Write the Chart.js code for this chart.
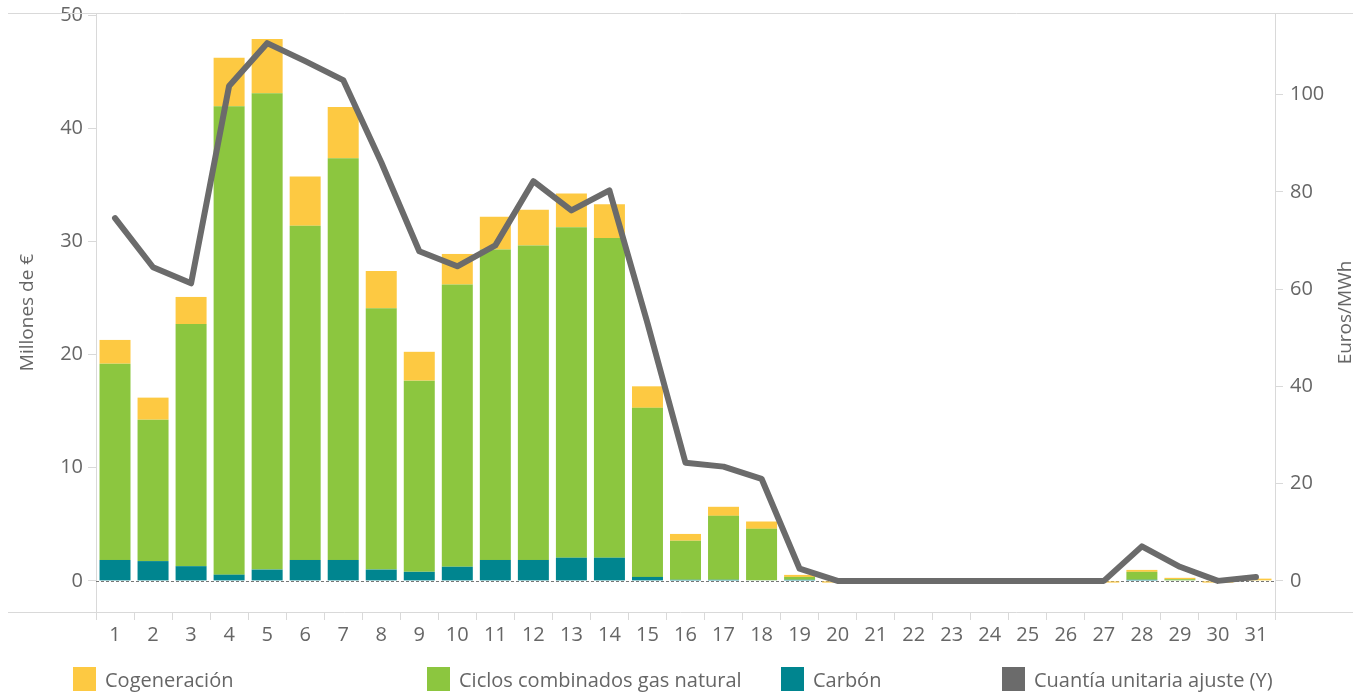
<!DOCTYPE html>
<html>
<head>
<meta charset="utf-8">
<script src="https://cdn.jsdelivr.net/npm/chart.js@4.4.1/dist/chart.umd.min.js"></script>
<style>
  html, body { margin: 0; padding: 0; background: #fff; }
  #wrap { position: relative; width: 1353px; height: 693px; overflow: hidden; }
  #legend { position: absolute; left: 0; top: 667px; width: 1353px; height: 26px;
            font-family: 'Open Sans', sans-serif; font-size: 20px; color: #666; }
  .item { position: absolute; top: 0; height: 24px; display: flex; align-items: center; white-space: nowrap; }
  .box { width: 23px; height: 24px; margin-right: 9px; flex: none; }
</style>
</head>
<body>
<div id="wrap">
  <canvas id="myChart" width="1353" height="693"></canvas>
  <div id="legend"></div>
</div>
<script>
var ctx = document.getElementById('myChart').getContext('2d');

// days of the month
let days = ['1','2','3','4','5','6','7','8','9','10','11','12','13','14','15','16',
            '17','18','19','20','21','22','23','24','25','26','27','28','29','30','31'];

// millones de euros por tecnología
let carbon = [1.85, 1.75, 1.3, 0.55, 1.0, 1.85, 1.85, 1.0, 0.8, 1.25, 1.85, 1.85, 2.05, 2.05, 0.35, 0.1,
              0.1, 0.05, 0.1, 0, 0, 0, 0, 0, 0, 0, 0, 0.1, 0.05, 0, 0];
let gas = [17.35, 12.5, 21.4, 41.4, 42.1, 29.55, 35.5, 23.1, 16.9, 24.95, 27.45, 27.8, 29.2, 28.25, 14.95, 3.45,
           5.65, 4.55, 0.25, 0, 0, 0, 0, 0, 0, 0, 0, 0.7, 0.1, 0, 0.05];
let cog = [2.1, 1.95, 2.4, 4.3, 4.8, 4.35, 4.55, 3.3, 2.55, 2.7, 2.9, 3.15, 3.0, 3.0, 1.9, 0.6,
           0.8, 0.65, 0.18, -0.15, 0, 0, 0, 0, 0, 0, -0.15, 0.17, 0.12, -0.15, 0.15];

// euros/MWh
let price = [74.6, 64.5, 61.2, 101.8, 110.6, 106.9, 103, 86.1, 67.8, 64.7, 69, 82.2, 76.2, 80.3, 53, 24.3,
             23.5, 21, 2.5, 0, 0, 0, 0, 0, 0, 0, 0, 7.1, 2.9, 0, 0.8];

let leftTicks = [0, 10, 20, 30, 40, 50];
let rightTicks = [0, 20, 40, 60, 80, 100];

const textColor = '#666';
const lineColor = '#d9d9d9';
const tickFont = { family: "'Open Sans', sans-serif", size: 20 };

// frame lines, dotted zero line and vertical axis titles
const framePlugin = {
  id: 'frame',
  beforeDatasetsDraw: (chart) => {
    const c = chart.ctx, a = chart.chartArea;
    c.save();
    c.strokeStyle = lineColor;
    c.lineWidth = 1;
    c.beginPath();
    c.moveTo(8, Math.round(a.top) + 0.5); c.lineTo(chart.width, Math.round(a.top) + 0.5);
    c.moveTo(8, Math.round(a.bottom) + 0.5); c.lineTo(chart.width, Math.round(a.bottom) + 0.5);
    c.stroke();
    const y0 = Math.round(chart.scales.y.getPixelForValue(0)) + 0.5;
    c.strokeStyle = '#777';
    c.setLineDash([3, 2]);
    c.beginPath(); c.moveTo(a.left, y0); c.lineTo(a.right, y0); c.stroke();
    c.restore();
  },
  afterDraw: (chart) => {
    const c = chart.ctx, a = chart.chartArea;
    const cy = (a.top + a.bottom) / 2;
    c.save();
    c.fillStyle = textColor;
    c.font = "19px 'Open Sans', sans-serif";
    c.textAlign = 'center';
    c.textBaseline = 'alphabetic';
    [[33, 'Millones de €'], [1351, 'Euros/MWh']].forEach(([x, t]) => {
      c.save();
      c.translate(x, cy);
      c.rotate(-Math.PI / 2);
      c.fillText(t, 0, 0);
      c.restore();
    });
    c.restore();
  }
};

// keep the vertical axes from adding room for label overhang
const fitY = (width) => (s) => {
  s.width = width;
  s.paddingTop = 0;
  s.paddingBottom = 0;
};

const datasets = [
  { type: 'line', label: 'Cuantía unitaria ajuste (Y)', data: price, yAxisID: 'y1',
    borderColor: '#6b6b6b', backgroundColor: '#6b6b6b', borderWidth: 6, pointRadius: 0,
    tension: 0, borderJoinStyle: 'round', borderCapStyle: 'round', order: 0 },
  { label: 'Carbón', data: carbon, backgroundColor: '#00858f', stack: 's', order: 1 },
  { label: 'Ciclos combinados gas natural', data: gas, backgroundColor: '#8cc63f', stack: 's', order: 1 },
  { label: 'Cogeneración', data: cog, backgroundColor: '#fdc942', stack: 's', order: 1 }
];

new Chart(ctx, {
  type: 'bar',
  data: { labels: days, datasets: datasets },
  options: {
    responsive: false,
    animation: false,
    layout: { padding: { left: 0, right: 0, top: 13, bottom: 46 } },
    plugins: { legend: { display: false }, tooltip: { enabled: false } },
    datasets: { bar: { categoryPercentage: 1, barPercentage: 0.815 } },
    scales: {
      x: {
        stacked: true,
        grid: { offset: true, drawOnChartArea: false, tickLength: 8, color: lineColor },
        border: { display: false },
        ticks: { font: tickFont, color: textColor, padding: 3, maxRotation: 0, autoSkip: false },
        afterFit: (s) => { s.height = 35; s.paddingLeft = 0; s.paddingRight = 0; }
      },
      y: {
        stacked: true,
        position: 'left',
        min: -2.75, max: 50.2,
        afterBuildTicks: (s) => { s.ticks = leftTicks.map(v => ({ value: v })); },
        grid: { drawOnChartArea: false, tickLength: 8, color: lineColor },
        border: { color: lineColor },
        ticks: { font: tickFont, color: textColor, padding: 5 },
        afterFit: fitY(96)
      },
      y1: {
        position: 'right',
        min: -6.4, max: 116.8,
        afterBuildTicks: (s) => { s.ticks = rightTicks.map(v => ({ value: v })); },
        grid: { drawOnChartArea: false, tickLength: 8, color: lineColor },
        border: { color: lineColor },
        ticks: { font: tickFont, color: textColor, padding: 7 },
        afterFit: fitY(78)
      }
    }
  },
  plugins: [framePlugin]
});

// legend along the bottom, same order as the original layout
let legendItems = [
  { label: 'Cogeneración', color: '#fdc942', left: 73 },
  { label: 'Ciclos combinados gas natural', color: '#8cc63f', left: 427 },
  { label: 'Carbón', color: '#00858f', left: 781 },
  { label: 'Cuantía unitaria ajuste (Y)', color: '#6b6b6b', left: 1002 }
];
const legendEl = document.getElementById('legend');
legendItems.forEach(it => {
  const d = document.createElement('div');
  d.className = 'item';
  d.style.left = it.left + 'px';
  d.innerHTML = '<span class="box" style="background:' + it.color + '"></span><span>' + it.label + '</span>';
  legendEl.appendChild(d);
});
</script>
</body>
</html>
